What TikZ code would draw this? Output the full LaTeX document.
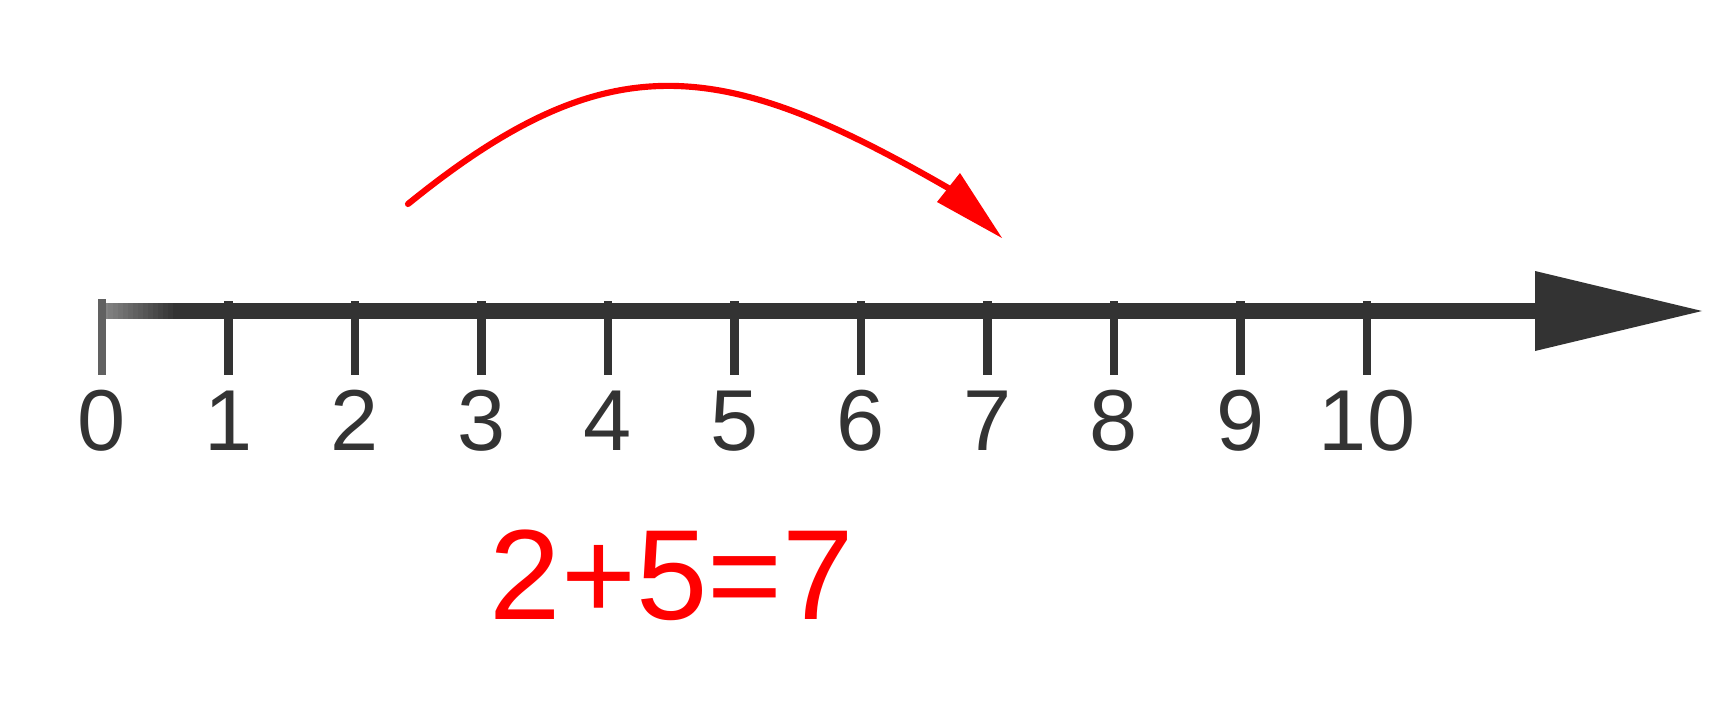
\documentclass[tikz,border=0pt]{standalone}
\usepackage{fontspec}
\setmainfont{Liberation Sans}
\definecolor{axisgray}{HTML}{333333}
\definecolor{fadegray}{HTML}{8A8A8A}
\definecolor{eqred}{HTML}{FF0000}
\begin{document}
\begin{tikzpicture}[x=0.01cm,y=-0.01cm,
  tickmark/.style={draw=axisgray,line width=2.3pt,line cap=butt},
  ticklabel/.style={text=axisgray,anchor=base,inner sep=0pt,font=\fontsize{24.6pt}{30pt}\selectfont},
  eqlabel/.style={text=eqred,anchor=base,inner sep=0pt,font=\fontsize{36.5pt}{44pt}\selectfont},
  jumpline/.style={draw=eqred,line width=1.75pt,line cap=round}]
\useasboundingbox (0,0) rectangle (1736,712);
% axis
\coordinate (ax0) at (98,303);
\coordinate (ax1) at (1536,319);
\fill[axisgray] (ax0) rectangle (ax1);
% fade at the left end of the axis
\foreach \k in {0,...,15}{
  \pgfmathsetmacro{\pct}{100-\k*100/15}
  \fill[fadegray!\pct!axisgray] ({98+5*\k},303) rectangle ({98+5*\k+5.5},319);
}
% arrow head of axis
\coordinate (ahT) at (1535,271);
\coordinate (ahB) at (1535,351);
\coordinate (ahTip) at (1702,311);
\fill[axisgray] (ahT) -- (ahTip) -- (ahB) -- cycle;
% ticks and labels
\foreach \i in {1,...,10}{
  \coordinate (tt\i) at ({102+126.5*\i},301);
  \coordinate (tb\i) at ({102+126.5*\i},375);
  \draw[tickmark] (tt\i) -- (tb\i);
}
\coordinate (tt0) at (102,299);
\coordinate (tb0) at (102,375);
\draw[tickmark,draw=black!62] (tt0) -- (tb0);
\foreach \i in {0,...,10}{
  \node[ticklabel] (l\i) at ({102+126.5*\i},450) {\i};
}
% jump arc
\coordinate (j0) at (408,204);
\coordinate (j1) at (950,189);
\draw[jumpline] (j0) .. controls (610,40) and (723,58) .. (j1);
\coordinate (jhA) at (960,173);
\coordinate (jhB) at (937,202);
\coordinate (jhTip) at (1002,238);
\fill[eqred] (jhA) -- (jhTip) -- (jhB) -- cycle;
% equation
\node[eqlabel] (eq) at (672,619) {2+5=7};
\end{tikzpicture}
\end{document}
